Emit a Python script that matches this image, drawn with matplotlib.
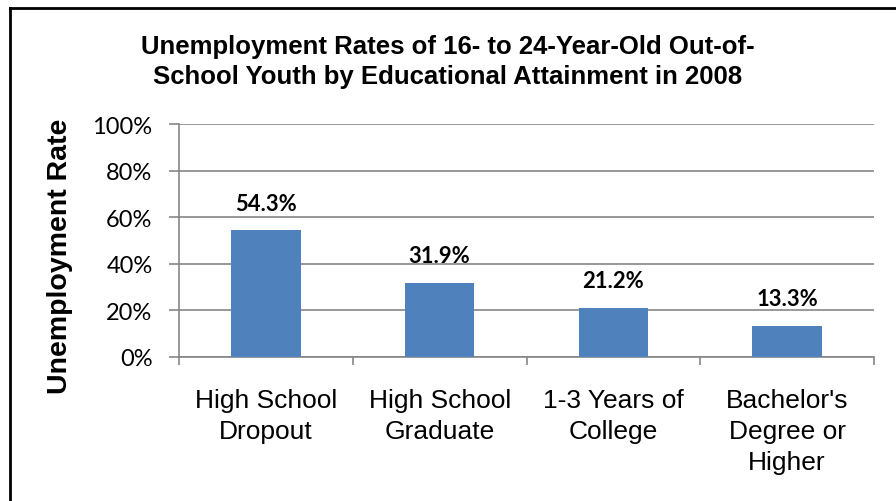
import matplotlib
matplotlib.use('Agg')
import matplotlib.pyplot as plt
from matplotlib.lines import Line2D
from matplotlib.ticker import MultipleLocator, PercentFormatter

# Data
categories = ['High School\nDropout', 'High School\nGraduate', '1-3 Years of\nCollege',
              "Bachelor's\nDegree or\nHigher"]
rates = [54.3, 31.9, 21.2, 13.3]
title = 'Unemployment Rates of 16- to 24-Year-Old Out-of-\nSchool Youth by Educational Attainment in 2008'
ylabel = 'Unemployment Rate'

bar_color = '#4F81BD'
grid_color = '#868686'

fig = plt.figure(figsize=(8.96, 5.02), dpi=100)
ax = fig.add_axes([179 / 896, 1 - 358 / 502, (874 - 179) / 896, (358 - 125) / 502])

x = list(range(len(categories)))
ax.bar(x, rates, width=0.4, color=bar_color, zorder=3)

# Data labels above the bars
for xi, v in zip(x, rates):
    ax.annotate(f'{v:.1f}%', (xi, v), xytext=(0, 12), textcoords='offset points',
                ha='center', va='bottom', fontsize=15.8, fontweight='bold',
                family='Lato', color='black')

ax.set_xlim(-0.5, len(categories) - 0.5)
ax.set_ylim(0, 100)
ax.yaxis.set_major_locator(MultipleLocator(20))
ax.yaxis.set_major_formatter(PercentFormatter(decimals=0))
ax.grid(axis='y', color=grid_color, linewidth=1.2, zorder=0)

ax.set_xticks(x)
ax.set_xticklabels(categories, fontsize=19, family='Liberation Sans', linespacing=1.38)
ax.set_xticks([i - 0.5 for i in range(len(categories) + 1)], minor=True)
ax.tick_params(axis='x', which='major', length=0, pad=22)
ax.tick_params(axis='x', which='minor', length=6, width=1.2, color=grid_color, direction='out')
ax.tick_params(axis='y', length=7, width=1.2, color=grid_color, pad=12,
               labelsize=17)
for lbl in ax.get_yticklabels():
    lbl.set_family('Lato')

for side in ['top', 'right']:
    ax.spines[side].set_visible(False)
for side in ['left', 'bottom']:
    ax.spines[side].set_color(grid_color)
    ax.spines[side].set_linewidth(1.2)

fig.text(0.5, 1 - 62 / 502, title, ha='center', va='center', fontsize=18.5,
         fontweight='bold', family='Liberation Sans', linespacing=1.32)
fig.text(60 / 896, 1 - 256 / 502, ylabel, rotation=90, ha='center', va='center',
         fontsize=20.5, fontweight='bold', family='Liberation Sans')

# Chart frame (top and left edges visible in the crop)
fig.add_artist(Line2D([10 / 896, 1], [1 - 9 / 502, 1 - 9 / 502], color='black',
                      linewidth=2, transform=fig.transFigure))
fig.add_artist(Line2D([10 / 896, 10 / 896], [0, 1 - 9 / 502], color='black',
                      linewidth=2, transform=fig.transFigure))

fig.savefig('out.png', dpi=100)
